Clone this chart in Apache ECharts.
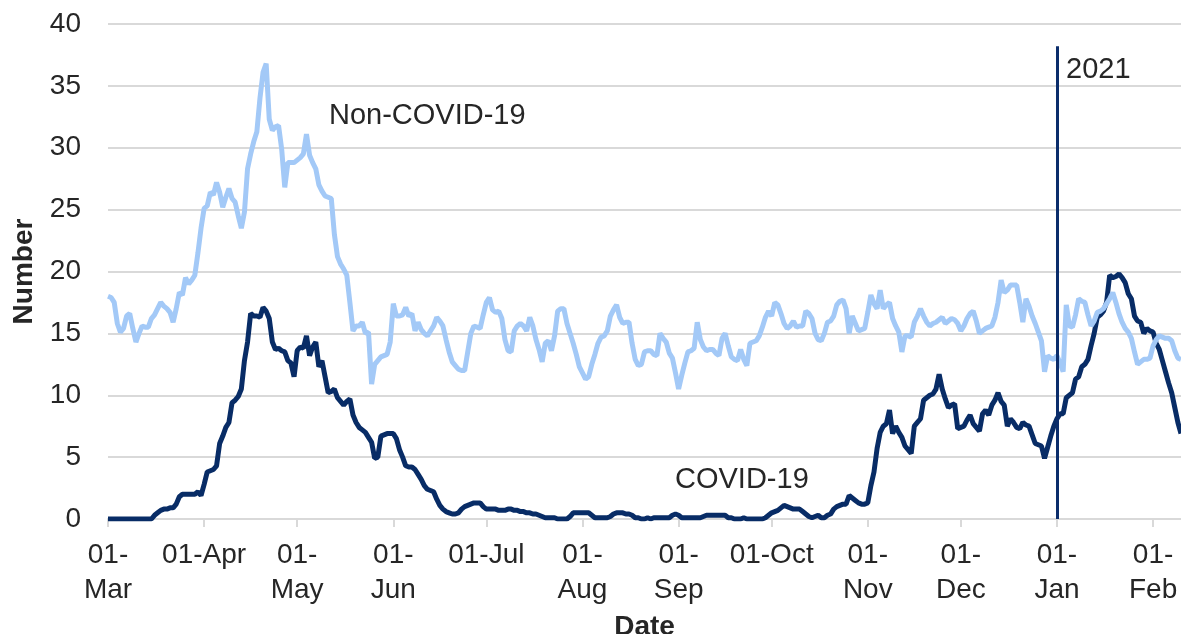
<!DOCTYPE html>
<html>
<head>
<meta charset="utf-8">
<title>COVID-19 and non-COVID-19 deaths</title>
<script src="https://cdn.jsdelivr.net/npm/echarts@6/dist/echarts.min.js"></script>
<style>
  html, body { margin: 0; padding: 0; background: #fff; }
  #chart { width: 1181px; height: 634px; }
</style>
</head>
<body>
<div id="chart"></div>
<script>
  // daily series, 01-Mar-2020 .. 10-Feb-2021
  var startDate = Date.UTC(2020, 2, 1)
  var dayCount = 347
  var monthNames = ['Jan', 'Feb', 'Mar', 'Apr', 'May', 'Jun', 'Jul', 'Aug', 'Sep', 'Oct', 'Nov', 'Dec']
  var oneLineMonths = ['Apr', 'Jul', 'Oct']

  var days = []
  for (var i = 0; i < dayCount; i++) {
    days.push(new Date(startDate + i * 86400000).toISOString().slice(0, 10))
  }

  var nonCovid = [
    18.0, 17.9, 17.5, 15.8, 15.1, 15.4, 16.4, 16.6, 15.4, 14.3,
    15.0, 15.6, 15.5, 15.5, 16.2, 16.5, 17.0, 17.5, 17.2, 17.0,
    16.7, 15.9, 17.0, 18.3, 18.1, 19.5, 19.0, 19.3, 19.7, 21.5,
    23.5, 25.1, 25.3, 26.4, 26.2, 27.2, 26.4, 25.2, 26.0, 26.7,
    25.9, 25.6, 24.5, 23.5, 24.8, 28.3, 29.5, 30.5, 31.3, 34.0,
    36.1, 36.8, 32.3, 31.4, 31.7, 31.8, 29.9, 26.8, 28.8, 28.8,
    28.8, 29.0, 29.2, 29.5, 31.1, 29.4, 28.8, 28.3, 27.0, 26.5,
    26.1, 26.0, 25.9, 23.0, 21.2, 20.6, 20.2, 19.7, 17.5, 15.2,
    15.6, 15.6, 15.9, 15.0, 15.1, 10.9, 12.5, 12.8, 13.1, 13.2,
    13.3, 14.3, 17.4, 16.4, 16.4, 16.5, 17.1, 16.4, 16.6, 15.2,
    15.9, 15.3, 15.0, 14.8, 15.2, 15.6, 16.3, 16.0, 15.6, 14.5,
    13.5, 12.7, 12.4, 12.1, 12.0, 12.0, 13.5, 15.0, 15.6, 15.5,
    15.4, 16.5, 17.5, 17.9, 16.9, 16.7, 16.8, 16.2, 14.5, 13.6,
    13.5, 15.2, 15.6, 15.8, 15.6, 15.2, 16.3, 15.6, 14.5, 13.7,
    12.7, 14.2, 14.4, 13.6, 14.8, 16.8, 17.0, 17.0, 15.8, 15.0,
    14.2, 13.3, 12.3, 11.8, 11.3, 11.5, 12.5, 13.3, 14.2, 14.7,
    14.8, 15.2, 16.4, 16.9, 17.3, 16.3, 15.8, 15.9, 15.9, 14.2,
    12.9, 12.4, 12.5, 13.5, 13.6, 13.6, 13.3, 13.2, 15.0, 14.6,
    14.3, 13.4, 13.0, 11.8, 10.5, 11.6, 12.6, 13.5, 13.6, 13.8,
    15.9, 14.5, 13.9, 13.6, 13.7, 13.7, 13.4, 13.2, 14.6, 15.0,
    14.0, 13.1, 12.9, 12.8, 13.7, 12.9, 12.4, 14.2, 14.3, 14.4,
    14.8, 15.5, 16.3, 16.8, 16.4, 17.5, 17.3, 16.6, 15.8, 15.4,
    15.6, 16.0, 15.5, 15.6, 15.6, 16.8, 16.6, 16.2, 15.0, 14.5,
    14.4, 15.0, 15.9, 16.0, 16.4, 17.3, 17.6, 17.7, 17.0, 15.0,
    16.4, 15.8, 15.2, 15.3, 15.4, 16.7, 18.1, 17.4, 17.0, 18.5,
    17.0, 17.3, 17.5, 16.2, 15.6, 15.1, 13.5, 14.8, 14.8, 14.7,
    15.9, 16.4, 17.0, 16.4, 15.9, 15.6, 15.8, 15.9, 16.1, 16.3,
    15.8, 16.0, 16.2, 16.1, 15.8, 15.2, 15.6, 16.2, 16.6, 16.8,
    16.0, 15.0, 15.2, 15.4, 15.5, 15.6, 16.3, 17.5, 19.3, 18.3,
    18.5, 18.9, 18.9, 18.9, 17.5, 15.9, 17.8, 17.2, 16.4, 15.8,
    15.1, 14.4, 11.9, 13.2, 13.0, 12.9, 13.2, 12.6, 11.9, 17.3,
    15.6, 15.5, 16.5, 17.8, 17.6, 17.5, 16.5, 15.6, 16.0, 16.7,
    16.8, 17.0, 17.4, 17.8, 18.3, 17.5, 16.6, 15.9, 15.4, 15.1,
    14.6, 13.5, 12.5, 12.7, 12.9, 12.9, 13.0, 14.0, 14.5, 14.8,
    14.7, 14.6, 14.6, 14.4, 13.6, 13.0, 12.9
  ]

  var covid = [
    0, 0, 0, 0, 0, 0, 0, 0, 0, 0,
    0, 0, 0, 0, 0, 0.3, 0.5, 0.7, 0.8, 0.8,
    0.9, 0.9, 1.2, 1.8, 2.0, 2.0, 2.0, 2.0, 2.0, 2.2,
    1.9, 2.8, 3.8, 3.9, 4.0, 4.3, 6.1, 6.7, 7.4, 7.8,
    9.4, 9.6, 9.9, 10.5, 12.8, 14.3, 16.6, 16.4, 16.4, 16.3,
    17.1, 16.8, 16.2, 14.3, 13.7, 13.8, 13.6, 13.5, 12.8, 12.6,
    11.5, 13.6, 13.9, 13.8, 14.8, 13.2, 13.9, 14.3, 12.3, 12.8,
    11.5, 10.2, 10.3, 10.5, 9.8, 9.5, 9.2, 9.5, 9.7, 8.4,
    7.8, 7.4, 7.2, 7.0, 6.6, 6.2, 4.9, 5.0, 6.7, 6.8,
    6.9, 6.9, 6.9, 6.5, 5.6, 5.0, 4.3, 4.2, 4.2, 4.0,
    3.6, 3.2, 2.7, 2.4, 2.3, 2.2, 1.6, 1.1, 0.8, 0.6,
    0.5, 0.4, 0.4, 0.5, 0.8, 1.0, 1.1, 1.2, 1.3, 1.3,
    1.3, 1.0, 0.8, 0.8, 0.8, 0.8, 0.7, 0.7, 0.7, 0.8,
    0.8, 0.7, 0.7, 0.6, 0.6, 0.5, 0.5, 0.4, 0.4, 0.3,
    0.2, 0.1, 0.1, 0.1, 0.1, 0, 0, 0, 0, 0.2,
    0.5, 0.5, 0.5, 0.5, 0.5, 0.5, 0.3, 0.1, 0.1, 0.1,
    0.1, 0.1, 0.2, 0.4, 0.5, 0.5, 0.5, 0.4, 0.4, 0.3,
    0.1, 0.1, 0, 0, 0.1, 0, 0.1, 0.1, 0.1, 0.1,
    0.1, 0.1, 0.3, 0.4, 0.3, 0.1, 0.1, 0.1, 0.1, 0.1,
    0.1, 0.1, 0.2, 0.3, 0.3, 0.3, 0.3, 0.3, 0.3, 0.3,
    0.1, 0.1, 0, 0, 0, 0.1, 0, 0, 0, 0,
    0, 0, 0.1, 0.3, 0.5, 0.6, 0.7, 0.9, 1.1, 1.0,
    0.9, 0.8, 0.8, 0.8, 0.6, 0.4, 0.2, 0.1, 0.2, 0.3,
    0.1, 0.1, 0.3, 0.4, 0.8, 1.0, 1.1, 1.2, 1.2, 1.9,
    1.7, 1.5, 1.3, 1.2, 1.2, 1.3, 2.7, 3.8, 5.7, 7.0,
    7.5, 7.7, 8.8, 6.9, 7.5, 7.0, 6.6, 5.9, 5.6, 5.3,
    7.5, 7.8, 8.1, 9.6, 9.8, 10.0, 10.1, 10.5, 11.7, 10.5,
    9.7, 9.0, 9.2, 9.3, 7.3, 7.4, 7.5, 8.0, 8.4, 7.7,
    7.4, 7.1, 8.5, 8.8, 8.4, 9.2, 9.6, 10.2, 9.5, 9.2,
    7.5, 8.1, 7.8, 7.4, 7.3, 7.8, 7.6, 7.5, 6.8, 6.1,
    6.0, 5.9, 4.9, 5.8, 6.7, 7.5, 8.1, 8.5, 8.5, 9.8,
    10.0, 10.2, 11.3, 11.5, 12.3, 12.5, 12.9, 14.0, 15.0, 16.3,
    16.5, 16.8, 17.5, 19.7, 19.5, 19.6, 19.8, 19.5, 19.1, 18.2,
    17.8, 16.4, 16.0, 15.9, 15.0, 15.4, 15.2, 15.1, 14.2, 13.7,
    12.8, 11.9, 11.0, 10.2, 9.0, 7.8, 6.9
  ]

  var yearMarkDay = '2021-01-01'
  var yearMarkTop = 38.2

  var textColor = '#262626'
  var fontFamily = '"Liberation Sans", Arial, sans-serif'
  var fontSize = 28
  var noteFont = '29px ' + fontFamily

  function isMonthStart(index, value) {
    return value.slice(8, 10) === '01'
  }

  var chart = echarts.init(document.getElementById('chart'))
  chart.setOption({
    animation: false,
    textStyle: { fontFamily: fontFamily },
    grid: { left: 108, right: 0, top: 24, bottom: 115, containLabel: false, outerBoundsMode: 'none' },
    xAxis: {
      type: 'category',
      data: days,
      boundaryGap: false,
      name: 'Date',
      nameLocation: 'middle',
      nameGap: 91,
      nameTextStyle: { color: textColor, fontSize: fontSize, fontWeight: 'bold', fontFamily: fontFamily },
      axisLine: { lineStyle: { color: '#d9d9d9', width: 2 } },
      axisTick: { interval: isMonthStart, length: 8, lineStyle: { color: '#d9d9d9', width: 2 } },
      axisLabel: {
        interval: isMonthStart,
        color: textColor,
        fontSize: fontSize,
        lineHeight: 35,
        margin: 19,
        formatter: function (value) {
          var mon = monthNames[parseInt(value.slice(5, 7), 10) - 1]
          if (oneLineMonths.indexOf(mon) >= 0) return '01-' + mon
          return '01-\n' + mon
        }
      },
      splitLine: { show: false }
    },
    yAxis: {
      type: 'value',
      min: 0,
      max: 40,
      interval: 5,
      name: 'Number',
      nameLocation: 'middle',
      nameGap: 70,
      nameTextStyle: { color: textColor, fontSize: fontSize, fontWeight: 'bold', fontFamily: fontFamily },
      axisLine: { show: false },
      axisTick: { show: false },
      axisLabel: { color: textColor, fontSize: fontSize, margin: 27 },
      splitLine: { lineStyle: { color: '#d9d9d9', width: 2 } }
    },
    series: [
      {
        name: 'COVID-19',
        type: 'line',
        data: covid,
        showSymbol: false,
        symbol: 'none',
        lineStyle: { color: '#082c66', width: 5 },
        itemStyle: { color: '#082c66' },
        z: 2,
        markLine: {
          silent: true,
          symbol: 'none',
          label: { show: false },
          lineStyle: { color: '#0b2d6b', width: 3, type: 'solid' },
          data: [[{ coord: [yearMarkDay, 0] }, { coord: [yearMarkDay, yearMarkTop] }]]
        }
      },
      {
        name: 'Non-COVID-19',
        type: 'line',
        data: nonCovid,
        showSymbol: false,
        symbol: 'none',
        lineStyle: { color: '#a3c9f7', width: 5 },
        itemStyle: { color: '#a3c9f7' },
        z: 3
      }
    ],
    graphic: [
      { type: 'text', left: 329, top: 101, style: { text: 'Non-COVID-19', fill: textColor, font: noteFont } },
      { type: 'text', left: 675, top: 465, style: { text: 'COVID-19', fill: textColor, font: noteFont } },
      { type: 'text', left: 1066, top: 55, style: { text: '2021', fill: textColor, font: noteFont } }
    ]
  })
</script>
</body>
</html>
